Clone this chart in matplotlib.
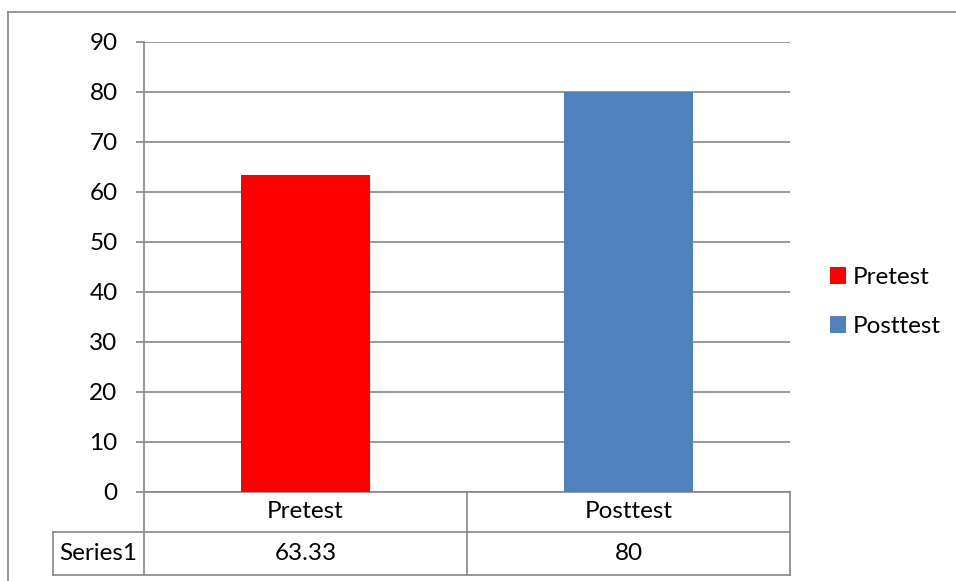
import matplotlib as mpl
import matplotlib.pyplot as plt
from matplotlib.lines import Line2D
from matplotlib.patches import Patch
import matplotlib.transforms as mtransforms

mpl.rcParams["font.family"] = ["Lato", "DejaVu Sans"]

categories = ["Pretest", "Posttest"]
values = [63.33, 80]
value_labels = ["63.33", "80"]
series_name = "Series1"
colors = ["#FF0000", "#4F81BD"]
yticks = [0, 10, 20, 30, 40, 50, 60, 70, 80, 90]

W, H = 956, 581
GRAY = "#868686"
FS = 17.5

fig = plt.figure(figsize=(W / 100, H / 100), dpi=100)
fig.patch.set_facecolor("white")

# outer chart border (left and top visible)
fig.add_artist(Line2D([8 / W, 8 / W], [0, 1 - 12 / H], color=GRAY, lw=1.2))
fig.add_artist(Line2D([8 / W, 1], [1 - 12 / H, 1 - 12 / H], color=GRAY, lw=1.2))

ax = fig.add_axes([144 / W, (H - 492) / H, 646 / W, 450 / H])
x = list(range(len(categories)))
ax.bar(x, values, width=0.4, color=colors, zorder=3)
ax.set_xlim(-0.5, len(categories) - 0.5)
ax.set_ylim(0, 90)
ax.set_yticks(yticks)
ax.set_yticklabels([str(t) for t in yticks], fontsize=FS)
ax.tick_params(axis="y", length=6, width=1.2, color=GRAY, pad=13)
ax.set_xticks([])
ax.grid(axis="y", color=GRAY, lw=1.2, zorder=0)
for s in ["top", "right"]:
    ax.spines[s].set_visible(False)
for s in ["left", "bottom"]:
    ax.spines[s].set_color(GRAY)
    ax.spines[s].set_linewidth(1.2)

# data table under the axis
trans = mtransforms.blended_transform_factory(ax.transData, ax.transAxes)
ppx = 1 / 450  # one pixel in axes y units
row1 = -40 * ppx
row2 = -83 * ppx
label_left = -0.5 - 91 / 323
kw = dict(color=GRAY, lw=1.2, transform=trans, clip_on=False)
for xb in [-0.5 + i for i in range(len(categories) + 1)]:
    ax.plot([xb, xb], [0, row2], **kw)
ax.plot([label_left, label_left], [row1, row2], **kw)
ax.plot([label_left, len(categories) - 0.5], [row1, row1], **kw)
ax.plot([label_left, len(categories) - 0.5], [row2, row2], **kw)
for xi, cat, lab in zip(x, categories, value_labels):
    ax.text(xi, row1 / 2, cat, transform=trans, ha="center", va="center", fontsize=FS)
    ax.text(xi, (row1 + row2) / 2, lab, transform=trans, ha="center", va="center", fontsize=FS)
ax.text((label_left - 0.5) / 2, (row1 + row2) / 2, series_name, transform=trans,
        ha="center", va="center", fontsize=FS)

handles = [Patch(facecolor=c, edgecolor="none") for c in colors]
fig.legend(handles, categories, loc="center left", bbox_to_anchor=(830 / W, 1 - 302 / H),
           frameon=False, fontsize=FS, handlelength=0.65, handleheight=0.65,
           handletextpad=0.3, labelspacing=1.15, borderpad=0, borderaxespad=0)

fig.savefig("out.png", dpi=100, facecolor="white")
